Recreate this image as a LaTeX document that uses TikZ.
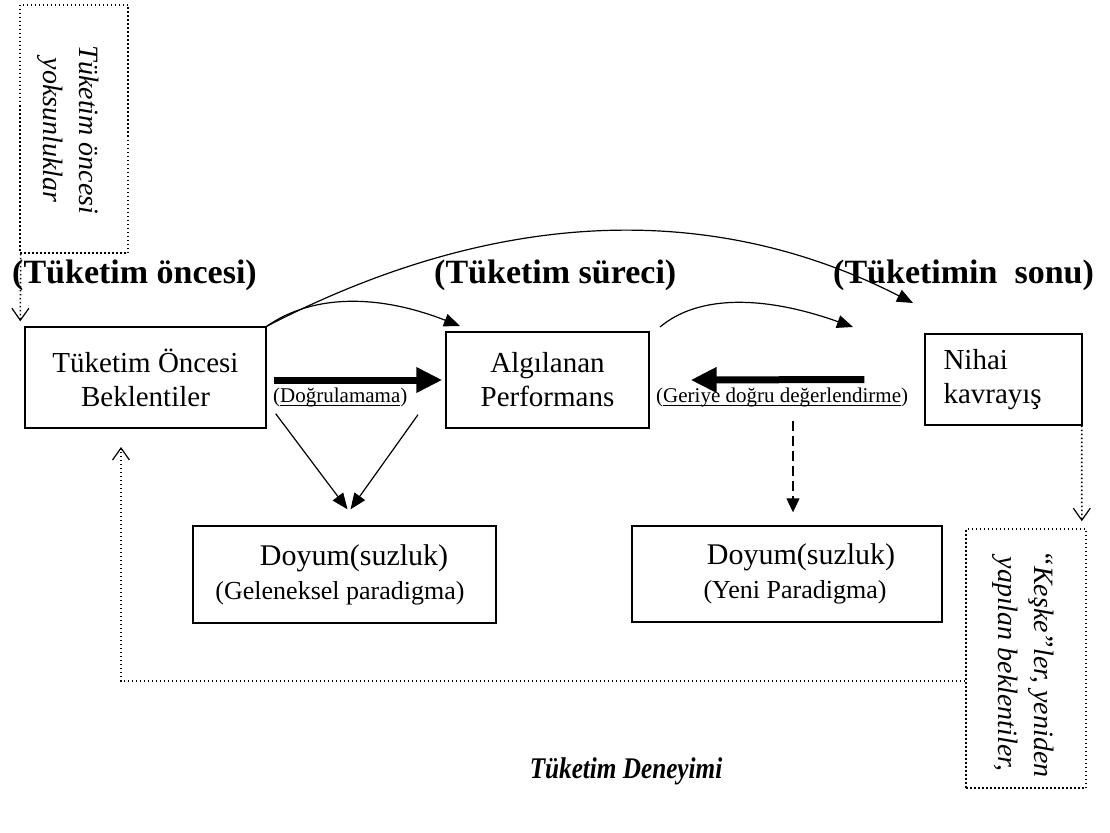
\documentclass[tikz,border=0pt]{standalone}
\usepackage{fontspec}
\usepackage{graphicx}
\setmainfont{Liberation Serif}
\usetikzlibrary{arrows.meta}
\newcommand\myul[1]{\setbox0\hbox{#1}\rlap{\rule[-3.5pt]{\wd0}{0.9pt}}\box0}
\begin{document}
\begin{tikzpicture}[x=1pt,y=-1pt,
  boxn/.style={draw, line width=1.4pt, inner sep=0pt, align=center, font=\fontsize{29}{34}\selectfont},
  dotbox/.style={draw, line width=1.6pt, dash pattern=on 1.5pt off 2.5pt, inner sep=0pt},
  rottext/.style={rotate=-90, align=center, inner sep=0pt, font=\itshape\fontsize{28}{36}\selectfont},
  hdg/.style={font=\fontsize{34}{40}\selectfont\bfseries, anchor=base west, inner sep=0pt},
  lab/.style={font=\fontsize{21}{24}\selectfont, anchor=base west, inner sep=0pt},
  thinarr/.style={line width=1.2pt, -{Triangle[length=16pt,width=13pt]}},
  fat/.style={line width=7pt, -{Triangle[length=26pt,width=24pt]}},
  dotl/.style={line width=1.6pt, dash pattern=on 1.5pt off 2.5pt},
  vtip/.style={-{Straight Barb[length=12pt,width=17pt,line width=1.2pt]}},
  dasharr/.style={line width=1.2pt, dash pattern=on 10pt off 5pt, -{Triangle[length=14pt,width=13pt]}}
]
\useasboundingbox (0,0) rectangle (1110,832);

% headings
\node[hdg] (h1) at (12,283) {(Tüketim öncesi)};
\node[hdg] (h2) at (434,283) {(Tüketim süreci)};
\node[hdg] (h3) at (833,283) {(Tüketimin\ \ sonu)};

% boxes
\node[boxn, minimum width=241pt, minimum height=101pt] (b1) at (145.5,377.5) {Tüketim Öncesi\\Beklentiler};
\node[boxn, minimum width=203pt, minimum height=96pt] (b2) at (547.5,380) {Algılanan\\Performans};
\node[boxn, minimum width=157pt, minimum height=91pt, align=left, text width=120pt] (b3) at (1003.5,379.5) {Nihai\\kavrayış};
\node[boxn, minimum width=303pt, minimum height=97pt] (b4) at (344.5,574.5)
  {\fontsize{30}{34}\selectfont\hspace*{19pt}Doyum(suzluk)\\\fontsize{26}{34}\selectfont(Geleneksel paradigma)\hspace*{9pt}};
\node[boxn, minimum width=310pt, minimum height=96pt] (b5) at (787,574)
  {\fontsize{30}{34}\selectfont\hspace*{28pt}Doyum(suzluk)\\\fontsize{26}{34}\selectfont\hspace*{16pt}(Yeni Paradigma)};

% dotted boxes
\node[dotbox, minimum width=108pt, minimum height=248pt] (tl) at (74,129) {};
\node[rottext] (tlt) at (68,130) {Tüketim öncesi\\yoksunluklar};
\node[dotbox, minimum width=120pt, minimum height=259pt] (rb) at (1026,658.5) {};
\node[rottext] (rbt) at (1023,664) {“Keşke”ler, yeniden\\yapılan beklentiler,};

% labels
\node[lab] (l1) at (273,402) {(\myul{Doğrulamama})};
\node[lab] (l2) at (656,402) {(\myul{Geriye doğru değerlendirme})};
\node[font=\bfseries\itshape\fontsize{30}{32}\selectfont, anchor=base, inner sep=0pt] (td) at (626,778) {\scalebox{0.84}[1]{Tüketim Deneyimi}};

% free ends
\coordinate (e1) at (913,303);
\coordinate (e2) at (460,326);
\coordinate (s3) at (660,327);
\coordinate (e3) at (853,327);
\coordinate (lc) at (121,681);
\coordinate (up) at (121,447);

% curved arrows
\draw[thinarr] (b1.north east) .. controls (495,208) and (711,200) .. (e1);
\draw[thinarr] (b1.north east) .. controls (313,294) and (378,294) .. (e2);
\draw[thinarr] (s3) .. controls (698,295) and (763,295) .. (e3);

% thick arrows
\draw[fat] ([xshift=7pt,yshift=-2.5pt]b1.east) -- ([xshift=-3pt]b2.west);
\draw[fat] ([xshift=-60pt]b3.west) -- ([xshift=41pt]b2.east);

% converging arrows
\draw[thinarr] ([xshift=9pt,yshift=15pt]b1.south east) -- ([xshift=3pt,yshift=16pt]b4.north);
\draw[thinarr] ([xshift=-129.5pt,yshift=14pt]b2.south) -- ([xshift=6pt,yshift=16pt]b4.north);

% dashed arrow
\draw[dasharr] ([xshift=6pt,yshift=104pt]b5.north) -- ([xshift=6pt,yshift=13pt]b5.north);

% dotted arrows
\draw[dotl, vtip] ([xshift=1.5pt]tl.south west) -- ([xshift=-4pt,yshift=5pt]b1.north west);
\draw[dotl, vtip] ([xshift=-1pt]b3.south east) -- ([xshift=-5pt,yshift=7pt]rb.north east);
\draw[dotl, vtip] (rb.west |- lc) -- (lc) -- (up);
\end{tikzpicture}
\end{document}
